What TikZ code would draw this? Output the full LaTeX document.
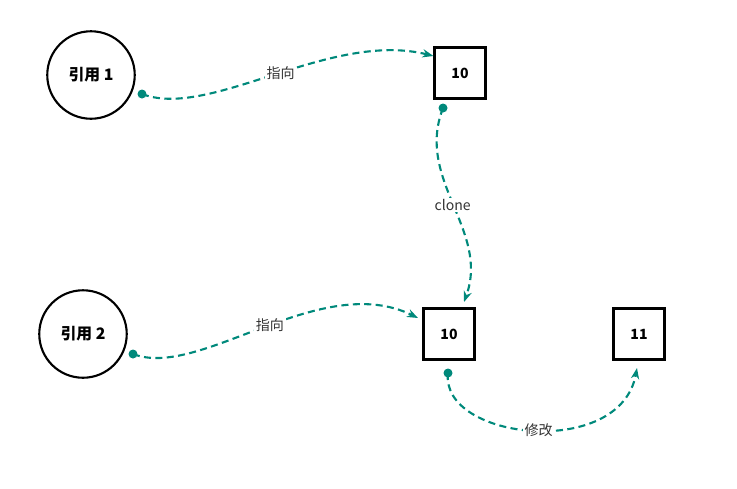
\documentclass[tikz,border=0pt]{standalone}
\usepackage{fontspec}
\setmainfont{Noto Sans CJK SC}
\usetikzlibrary{arrows.meta,positioning}
\definecolor{linkgreen}{HTML}{00897B}

\begin{document}
\begin{tikzpicture}[
    x = 0.02cm, y = -0.02cm,
    ref/.style =
    { shape        = circle,
      draw,
      line width   = 1.2pt,
      font         = \bfseries\small,
      minimum size = 1.75cm },
    val/.style =
    { shape        = rectangle,
      draw,
      line width   = 1.2pt,
      font         = \bfseries\footnotesize,
      minimum size = 1.02cm },
    link/.style =
    { -{Stealth[length=2.2mm]},
      linkgreen,
      line width = 1.2pt,
      dash pattern = on 4pt off 2.5pt },
    start/.style =
    { circle,
      fill = linkgreen,
      inner sep = 0pt,
      minimum size = 1.8mm },
    tag/.style =
    { fill  = white,
      text  = black!80,
      font  = \footnotesize,
      inner sep = 1pt }
  ]
  \useasboundingbox (0,0) rectangle (737,488);

  \node[ref] (r1) at (91,75) {引用 1};
  \node[ref] (r2) at (83,334) {引用 2};
  \node[val] (v1) at (460,73) {10};
  \node[val] (v2) at (449,334) {10};
  \node[val] (v3) at (639,334) {11};

  \node[start] (d1) at (142,94) {};
  \node[start] (d2) at (443,108) {};
  \node[start] (d3) at (133,354) {};
  \node[start] (d4) at (448,373) {};

  \draw[link] (d1.center) .. controls (210,120) and (330,30) .. (v1.north west |- 0,56)
    node[pos=0.52, tag] {指向};
  \draw[link] (d2.center) .. controls (415,180) and (490,230) .. (464,302)
    node[pos=0.5, tag] {clone};
  \draw[link] (d3.center) .. controls (200,380) and (320,270) .. (418,318)
    node[pos=0.52, tag] {指向};
  \draw[link] (d4.center) .. controls (440,440) and (620,460) .. (637,368)
    node[pos=0.52, tag] {修改};
\end{tikzpicture}
\end{document}
